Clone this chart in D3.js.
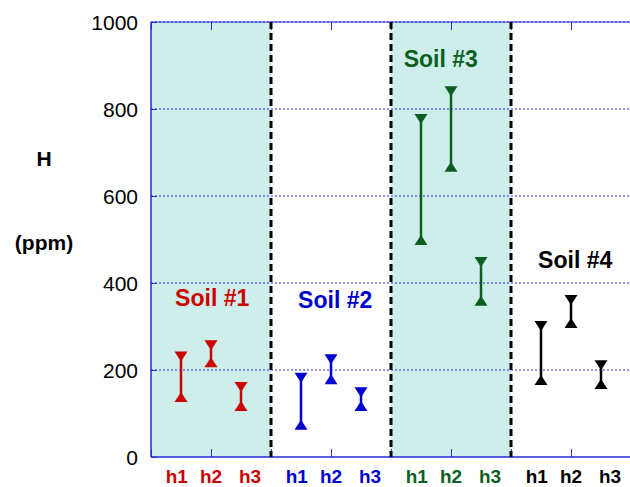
<!DOCTYPE html>
<html>
<head>
<meta charset="utf-8">
<script src="https://cdn.jsdelivr.net/npm/d3@7"></script>
<style>
  body { margin: 0; background: #fff; }
  svg { display: block; font-family: "Liberation Sans", Arial, sans-serif; }
</style>
</head>
<body>
<svg id="chart" width="630" height="487"></svg>
<script>
// data
var soils = ["Soil #1", "Soil #2", "Soil #3", "Soil #4"];
var horizons = ["h1", "h2", "h3"];
var highValues = [[231, 257, 161], [182, 225, 149], [777, 841, 448], [301, 361, 211]];
var lowValues  = [[138, 218, 117], [74, 179, 117], [499, 667, 359], [177, 308, 168]];
var yTicks = [0, 200, 400, 600, 800, 1000];

var colors = ["#cc0000", "#0000cc", "#0b5e1e", "#000000"];
var axisBlue = "#2a2ad8";

// set the dimensions and margins of the graph
var margin = {top: 22, left: 151, bottom: 30},
    width = 480,
    height = 487 - margin.top - margin.bottom;

var svg = d3.select("#chart");

// x is in "slots": each soil takes 2 units, horizons at 0.5, 1, 1.5
var x = d3.scaleLinear().domain([0, 8]).range([margin.left, margin.left + width]);
var y = d3.scaleLinear().domain([0, 1000]).range([margin.top + height, margin.top]);

// shaded bands for soil 1 and 3
svg.selectAll(".band")
    .data([0, 2])
    .enter().append("rect")
    .attr("x", function(d) { return x(d * 2); })
    .attr("y", y(1000))
    .attr("width", x(2) - x(0))
    .attr("height", y(0) - y(1000))
    .attr("fill", "#cdeeea");

// dotted grid lines
svg.selectAll(".grid")
    .data(yTicks.filter(function(d) { return d > 0; }))
    .enter().append("line")
    .attr("x1", x(0)).attr("x2", x(8))
    .attr("y1", function(d) { return y(d); })
    .attr("y2", function(d) { return y(d); })
    .attr("stroke", axisBlue)
    .attr("stroke-width", 1.2)
    .attr("stroke-dasharray", "2,2");

// y axis (ticks inside)
var yAxis = svg.append("g")
    .attr("transform", "translate(" + x(0) + ",0)")
    .call(d3.axisRight(y).tickValues(yTicks).tickSize(6).tickFormat(""));
yAxis.select(".domain").remove();
yAxis.selectAll("line").attr("stroke", axisBlue);

svg.append("line")
    .attr("x1", x(0)).attr("x2", x(0))
    .attr("y1", y(1000)).attr("y2", y(0))
    .attr("stroke", axisBlue).attr("stroke-width", 1.5);

svg.selectAll(".ylabel")
    .data(yTicks)
    .enter().append("text")
    .attr("x", x(0) - 13)
    .attr("y", function(d) { return y(d); })
    .attr("dy", "0.36em")
    .attr("text-anchor", "end")
    .attr("font-size", 21)
    .attr("fill", "#000")
    .text(function(d) { return d; });

// x axis bottom and top ticks
var xt = d3.range(0, 9);
var xb = svg.append("g")
    .attr("transform", "translate(0," + y(0) + ")")
    .call(d3.axisTop(x).tickValues(xt).tickSize(8).tickFormat(""));
xb.select(".domain").remove();
xb.selectAll("line").attr("stroke", axisBlue);
var xtp = svg.append("g")
    .attr("transform", "translate(0," + y(1000) + ")")
    .call(d3.axisBottom(x).tickValues(xt).tickSize(8).tickFormat(""));
xtp.select(".domain").remove();
xtp.selectAll("line").attr("stroke", axisBlue);

svg.append("line")
    .attr("x1", x(0)).attr("x2", x(8))
    .attr("y1", y(0)).attr("y2", y(0))
    .attr("stroke", axisBlue).attr("stroke-width", 1.5);
svg.append("line")
    .attr("x1", x(0)).attr("x2", x(8))
    .attr("y1", y(1000)).attr("y2", y(1000))
    .attr("stroke", axisBlue).attr("stroke-width", 1);

// dashed dividers between soils
svg.selectAll(".divider")
    .data([1, 2, 3])
    .enter().append("line")
    .attr("x1", function(d) { return x(d * 2); })
    .attr("x2", function(d) { return x(d * 2); })
    .attr("y1", y(1000)).attr("y2", y(0))
    .attr("stroke", "#000")
    .attr("stroke-width", 3)
    .attr("stroke-dasharray", "7,4");

// high-low bars
var points = [];
soils.forEach(function(s, i) {
    horizons.forEach(function(h, j) {
        points.push({soil: i, hz: j, hi: highValues[i][j], lo: lowValues[i][j]});
    });
});
function xPos(d) { return x(d.soil * 2 + 0.5 + d.hz * 0.5); }

var bars = svg.selectAll(".bar")
    .data(points)
    .enter().append("g");

bars.append("line")
    .attr("x1", xPos).attr("x2", xPos)
    .attr("y1", function(d) { return y(d.hi); })
    .attr("y2", function(d) { return y(d.lo); })
    .attr("stroke", function(d) { return colors[d.soil]; })
    .attr("stroke-width", 2.5);

var tw = 6.5, th = 5;
bars.append("path")
    .attr("d", function(d) {
        var cx = xPos(d), cy = y(d.hi);
        return "M" + (cx - tw) + "," + (cy - th) + "L" + (cx + tw) + "," + (cy - th) + "L" + cx + "," + (cy + th) + "Z";
    })
    .attr("fill", function(d) { return colors[d.soil]; });
bars.append("path")
    .attr("d", function(d) {
        var cx = xPos(d), cy = y(d.lo);
        return "M" + (cx - tw) + "," + (cy + th) + "L" + (cx + tw) + "," + (cy + th) + "L" + cx + "," + (cy - th) + "Z";
    })
    .attr("fill", function(d) { return colors[d.soil]; });

// horizon labels under axis
var labelOffsets = [0.43, 1.0, 1.65];
soils.forEach(function(s, i) {
    svg.selectAll(".hl" + i)
        .data(horizons)
        .enter().append("text")
        .attr("x", function(d, j) { return x(i * 2 + labelOffsets[j]); })
        .attr("y", 483)
        .attr("text-anchor", "middle")
        .attr("font-size", 19)
        .attr("font-weight", "bold")
        .attr("fill", colors[i])
        .text(function(d) { return d; });
});

// soil labels
var soilLabelPos = [[1.02, 347], [3.07, 342], [4.83, 896], [7.07, 434]];
svg.selectAll(".soil")
    .data(soils)
    .enter().append("text")
    .attr("x", function(d, i) { return x(soilLabelPos[i][0]); })
    .attr("y", function(d, i) { return y(soilLabelPos[i][1]); })
    .attr("text-anchor", "middle")
    .attr("font-size", 23)
    .attr("font-weight", "bold")
    .attr("fill", function(d, i) { return colors[i]; })
    .text(function(d) { return d; });

// y axis title
svg.append("text")
    .attr("x", 44).attr("y", 166)
    .attr("text-anchor", "middle")
    .attr("font-size", 21).attr("font-weight", "bold")
    .text("H");
svg.append("text")
    .attr("x", 44).attr("y", 250)
    .attr("text-anchor", "middle")
    .attr("font-size", 21).attr("font-weight", "bold")
    .text("(ppm)");
</script>
</body>
</html>
